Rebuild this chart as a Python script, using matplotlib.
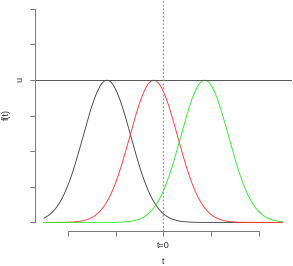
import numpy as np
import matplotlib
matplotlib.use("Agg")
import matplotlib.pyplot as plt

plt.rcParams['font.family'] = ['Liberation Sans', 'DejaVu Sans']

# curve means (in t units), common sd, colours
means = [-1.18, -0.2, 0.87]
sd = 0.5
colors = ['#444444', '#ff3a3a', '#33e633']
t_range = [-2.5, 2.5]

x_ticks = [-2, -1, 0, 1, 2]
x_labels = ['', '', 't=0', '', '']
y_ticks = [0, 0.2, 0.4, 0.6, 0.8, 1.0, 1.2]
y_labels = ['', '', '', '', 'u', '', '']
u_level = 0.8

W, H = 293, 266
fig = plt.figure(figsize=(W / 100, H / 100), dpi=100)
ax = fig.add_axes([34.5 / W, (H - 231) / H, (292 - 34.5) / W, 231 / H])

t = np.linspace(t_range[0], t_range[1], 400)
for m, c in zip(means, colors):
    f = np.exp(-0.5 * ((t - m) / sd) ** 2) / (sd * np.sqrt(2 * np.pi))
    ax.plot(t, f, color=c, lw=0.65)

ax.axhline(u_level, color='#555555', lw=0.7)
ax.axvline(0, color='#999999', lw=0.9, linestyle=(0, (1.5, 1.5)))

ax.set_xlim(-2.7, 2.7)
ax.set_ylim(-0.048, 1.248)

ax.set_xticks(x_ticks)
ax.set_xticklabels(x_labels, fontsize=6.5, color='#333333')
ax.set_yticks(y_ticks)
ax.set_yticklabels(y_labels, fontsize=6.5, color='#333333', rotation=90, va='center')
ax.tick_params(axis='both', length=3.5, width=0.7, color='#777777', pad=3.5)

for s in ['top', 'right']:
    ax.spines[s].set_visible(False)
ax.spines['bottom'].set_bounds(-2, 2)
ax.spines['left'].set_bounds(0, 1.2)
for s in ['bottom', 'left']:
    ax.spines[s].set_color('#777777')
    ax.spines[s].set_linewidth(0.7)

fig.text(163 / W, 1 - 262 / H, 't', ha='center', va='center', fontsize=6.5, color='#333333')
fig.text(6 / W, 1 - 115 / H, 'f(t)', ha='center', va='center', rotation=90, fontsize=6.5, color='#333333')

fig.savefig('out.png', dpi=100)
